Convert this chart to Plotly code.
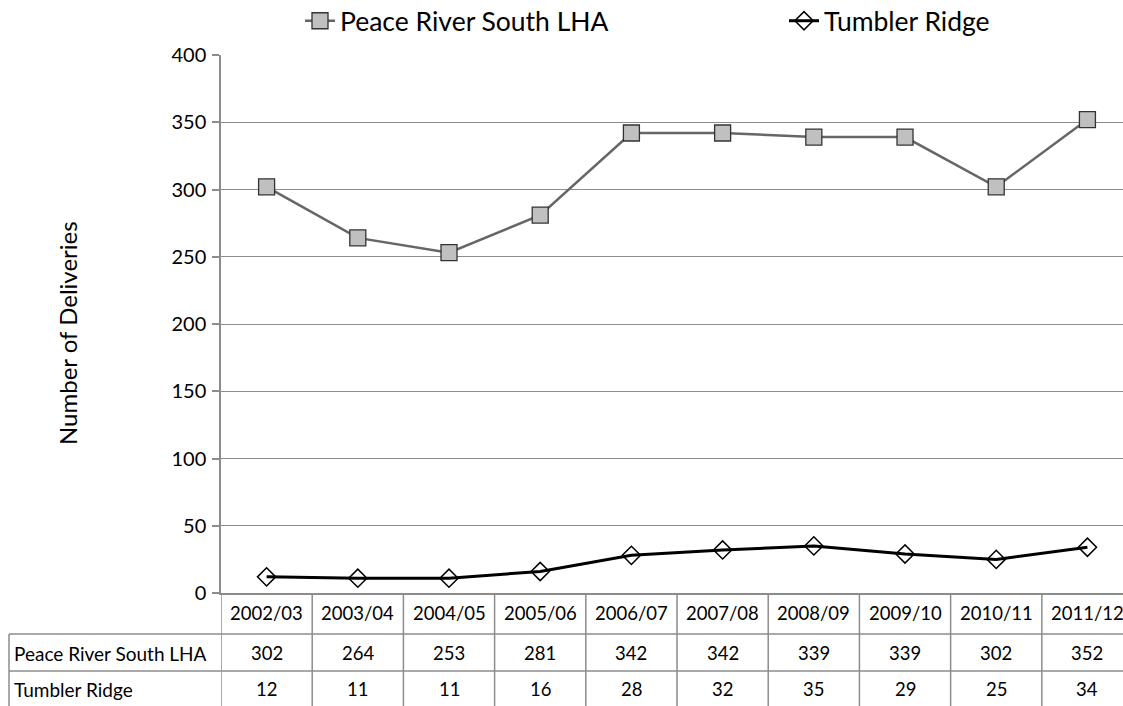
import plotly.graph_objects as go

categories = ["2002/03", "2003/04", "2004/05", "2005/06", "2006/07",
              "2007/08", "2008/09", "2009/10", "2010/11", "2011/12"]
peace = [302, 264, 253, 281, 342, 342, 339, 339, 302, 352]
tumbler = [12, 11, 11, 16, 28, 32, 35, 29, 25, 34]
series_names = ["Peace River South LHA", "Tumbler Ridge"]
y_ticks = [0, 50, 100, 150, 200, 250, 300, 350, 400]

FONT = "Lato"
GRID = "#8c8c8c"
W, H = 1123, 706
L, R, T, B = 221, 0, 55, 113
PH = H - T - B
PW = W - L - R

def py(pix):
    return (H - B - pix) / PH

def px(pix):
    return (pix - L) / PW

fig = go.Figure()
fig.add_trace(go.Scatter(
    x=categories, y=peace, name=series_names[0], mode="lines+markers",
    line=dict(color="#666666", width=2.5),
    marker=dict(symbol="square", size=16, color="#c0c0c0",
                line=dict(color="#333333", width=1.3)),
    legend="legend",
))
fig.add_trace(go.Scatter(
    x=categories, y=tumbler, name=series_names[1], mode="lines+markers",
    line=dict(color="#000000", width=3),
    marker=dict(symbol="diamond-open", size=14, color="#000000",
                line=dict(color="#000000", width=1.5)),
    legend="legend2",
))

shapes = []
y_row1 = py(634)
y_row2 = py(671)
y_bot = py(H + 5)
shapes.append(dict(type="line", xref="paper", yref="paper", x0=px(9), x1=1.02,
                   y0=y_row1, y1=y_row1, line=dict(color=GRID, width=1.5)))
shapes.append(dict(type="line", xref="paper", yref="paper", x0=px(9), x1=1.02,
                   y0=y_row2, y1=y_row2, line=dict(color=GRID, width=1.5)))
shapes.append(dict(type="line", xref="paper", yref="paper", x0=px(9), x1=px(9),
                   y0=y_row1, y1=y_bot, line=dict(color=GRID, width=1.5)))
for i in range(len(categories)):
    shapes.append(dict(type="line", xref="x", yref="paper", x0=i - 0.5, x1=i - 0.5,
                       y0=0, y1=y_bot, line=dict(color=GRID, width=1.5)))

TF = 18.5
annotations = []
for i, c in enumerate(categories):
    annotations.append(dict(x=c, y=py(613), xref="x", yref="paper", text=c,
                            xanchor="center", yanchor="middle",
                            showarrow=False, font=dict(family=FONT, size=TF, color="#000")))
    annotations.append(dict(x=c, y=py(653), xref="x", yref="paper", text=str(peace[i]),
                            xanchor="center", yanchor="middle",
                            showarrow=False, font=dict(family=FONT, size=TF, color="#000")))
    annotations.append(dict(x=c, y=py(689), xref="x", yref="paper", text=str(tumbler[i]),
                            xanchor="center", yanchor="middle",
                            showarrow=False, font=dict(family=FONT, size=TF, color="#000")))
for name, yy in zip(series_names, [653, 689]):
    annotations.append(dict(x=px(12), y=py(yy), xref="paper", yref="paper", text=name,
                            xanchor="left", yanchor="middle", showarrow=False,
                            font=dict(family=FONT, size=19, color="#000")))
annotations.append(dict(x=px(67), y=py(333), xref="paper", yref="paper",
                        text="Number of Deliveries", textangle=-90, showarrow=False,
                        xanchor="center", yanchor="middle",
                        font=dict(family=FONT, size=24, color="#000")))

leg_common = dict(orientation="h", xanchor="left", yanchor="middle", y=py(21),
                  font=dict(family=FONT, size=26.5, color="#000"),
                  itemwidth=30, bgcolor="rgba(0,0,0,0)")

fig.update_layout(
    width=W, height=H,
    margin=dict(l=L, r=R, t=T, b=B, autoexpand=False),
    paper_bgcolor="white", plot_bgcolor="white",
    font=dict(family=FONT, color="#000"),
    showlegend=True,
    legend=dict(x=px(300), **leg_common),
    legend2=dict(x=px(784), **leg_common),
    xaxis=dict(type="category", range=[-0.5, 9.39], showticklabels=False,
               showgrid=False, zeroline=False, showline=True, linecolor=GRID,
               linewidth=1.5, ticks="", automargin=False),
    yaxis=dict(range=[0, 400], tickvals=y_ticks, showgrid=True, gridcolor=GRID,
               gridwidth=1.2, zeroline=False, showline=True, linecolor=GRID, linewidth=1.5,
               ticks="outside", ticklen=7, tickcolor=GRID, tickwidth=1.5, automargin=False,
               tickfont=dict(family=FONT, size=20, color="#000"), ticklabelstandoff=2),
    shapes=shapes,
    annotations=annotations,
)

fig.write_html("out.html", config={"displayModeBar": False},
               post_script="document.body.style.margin='0';document.body.style.overflow='hidden';")
